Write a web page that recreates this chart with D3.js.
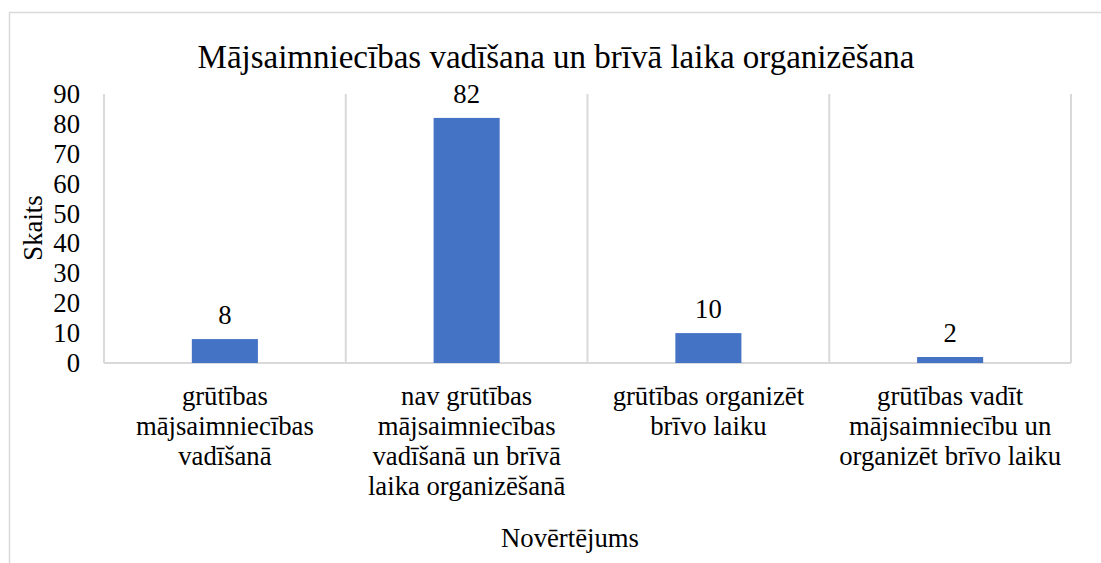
<!DOCTYPE html>
<html>
<head>
<meta charset="utf-8">
<script src="https://cdn.jsdelivr.net/npm/d3@7"></script>
<style>
  html, body { margin: 0; padding: 0; background: #fff; }
</style>
</head>
<body>
<div id="chart"></div>
<script>
(function(){
    var FONT = 'Liberation Serif';
    // data
    var categories = [
        'grūtības mājsaimniecības vadīšanā',
        'nav grūtības mājsaimniecības vadīšanā un brīvā laika organizēšanā',
        'grūtības organizēt brīvo laiku',
        'grūtības vadīt mājsaimniecību un organizēt brīvo laiku'
    ];
    // how the category labels wrap under the axis
    var labelLines = [
        ['grūtības', 'mājsaimniecības', 'vadīšanā'],
        ['nav grūtības', 'mājsaimniecības', 'vadīšanā un brīvā', 'laika organizēšanā'],
        ['grūtības organizēt', 'brīvo laiku'],
        ['grūtības vadīt', 'mājsaimniecību un', 'organizēt brīvo laiku']
    ];
    var values = [8, 82, 10, 2];
    var yTicks = [0, 10, 20, 30, 40, 50, 60, 70, 80, 90];

    var W = 1101, H = 563;
    var margin = { top: 94, left: 104 };
    var width = 1071 - margin.left;
    var height = 363 - margin.top;
    var fs = 26.7;

    var svg = d3.select('#chart').append('svg')
        .attr('width', W).attr('height', H);

    // outer chart border (runs off the right and bottom of the picture)
    svg.append('rect')
        .attr('x', 9.5).attr('y', 12.5)
        .attr('width', W + 20).attr('height', H + 20)
        .attr('fill', 'none').attr('stroke', '#d9d9d9').attr('stroke-width', 1.5);

    var g = svg.append('g')
        .attr('transform', 'translate(' + margin.left + ',' + margin.top + ')');

    var x = d3.scaleBand().domain(categories).range([0, width]).paddingInner(0).paddingOuter(0);
    var y = d3.scaleLinear().domain([0, 90]).range([height, 0]);

    // vertical separators between categories
    var bounds = categories.map(function(c){ return x(c); }).concat([width]);
    g.selectAll('line.sep').data(bounds).enter().append('line')
        .attr('x1', function(d){ return d; }).attr('x2', function(d){ return d; })
        .attr('y1', 0).attr('y2', height)
        .attr('stroke', '#d9d9d9').attr('stroke-width', 2);

    // baseline
    g.append('line')
        .attr('x1', 0).attr('x2', width)
        .attr('y1', height).attr('y2', height)
        .attr('stroke', '#d9d9d9').attr('stroke-width', 2);

    // bars (gap width ~266%)
    var bw = x.bandwidth() / 3.66;
    g.selectAll('rect.bar').data(values).enter().append('rect')
        .attr('x', function(d, i){ return x(categories[i]) + x.bandwidth() / 2 - bw / 2; })
        .attr('width', bw)
        .attr('y', function(d){ return y(d); })
        .attr('height', function(d){ return height - y(d); })
        .attr('fill', '#4472c4');

    // value labels
    values.forEach(function(v, i){
        g.append('text')
            .attr('x', x(categories[i]) + x.bandwidth() / 2)
            .attr('y', y(v) - 15)
            .attr('text-anchor', 'middle')
            .attr('font-family', FONT)
            .attr('font-size', fs)
            .attr('fill', '#000')
            .text(v);
    });

    // y tick labels from the scale
    yTicks.forEach(function(t){
        g.append('text')
            .attr('x', -24)
            .attr('y', y(t) + 9)
            .attr('text-anchor', 'end')
            .attr('font-family', FONT)
            .attr('font-size', fs)
            .attr('fill', '#000')
            .text(t);
    });

    // category labels, one text per line
    categories.forEach(function(c, i){
        labelLines[i].forEach(function(line, j){
            g.append('text')
                .attr('x', x(c) + x.bandwidth() / 2)
                .attr('y', height + 42 + j * 30)
                .attr('text-anchor', 'middle')
                .attr('font-family', FONT)
                .attr('font-size', fs)
                .attr('fill', '#000')
                .text(line);
        });
    });

    // title
    svg.append('text')
        .attr('x', 556).attr('y', 68)
        .attr('text-anchor', 'middle')
        .attr('font-family', FONT)
        .attr('font-size', 33)
        .attr('fill', '#000')
        .text('Mājsaimniecības vadīšana un brīvā laika organizēšana');

    // axis titles
    svg.append('text')
        .attr('transform', 'translate(42,228) rotate(-90)')
        .attr('text-anchor', 'middle')
        .attr('font-family', FONT)
        .attr('font-size', fs)
        .attr('fill', '#000')
        .text('Skaits');

    svg.append('text')
        .attr('x', 570).attr('y', 547)
        .attr('text-anchor', 'middle')
        .attr('font-family', FONT)
        .attr('font-size', fs)
        .attr('fill', '#000')
        .text('Novērtējums');
})();
</script>
</body>
</html>
